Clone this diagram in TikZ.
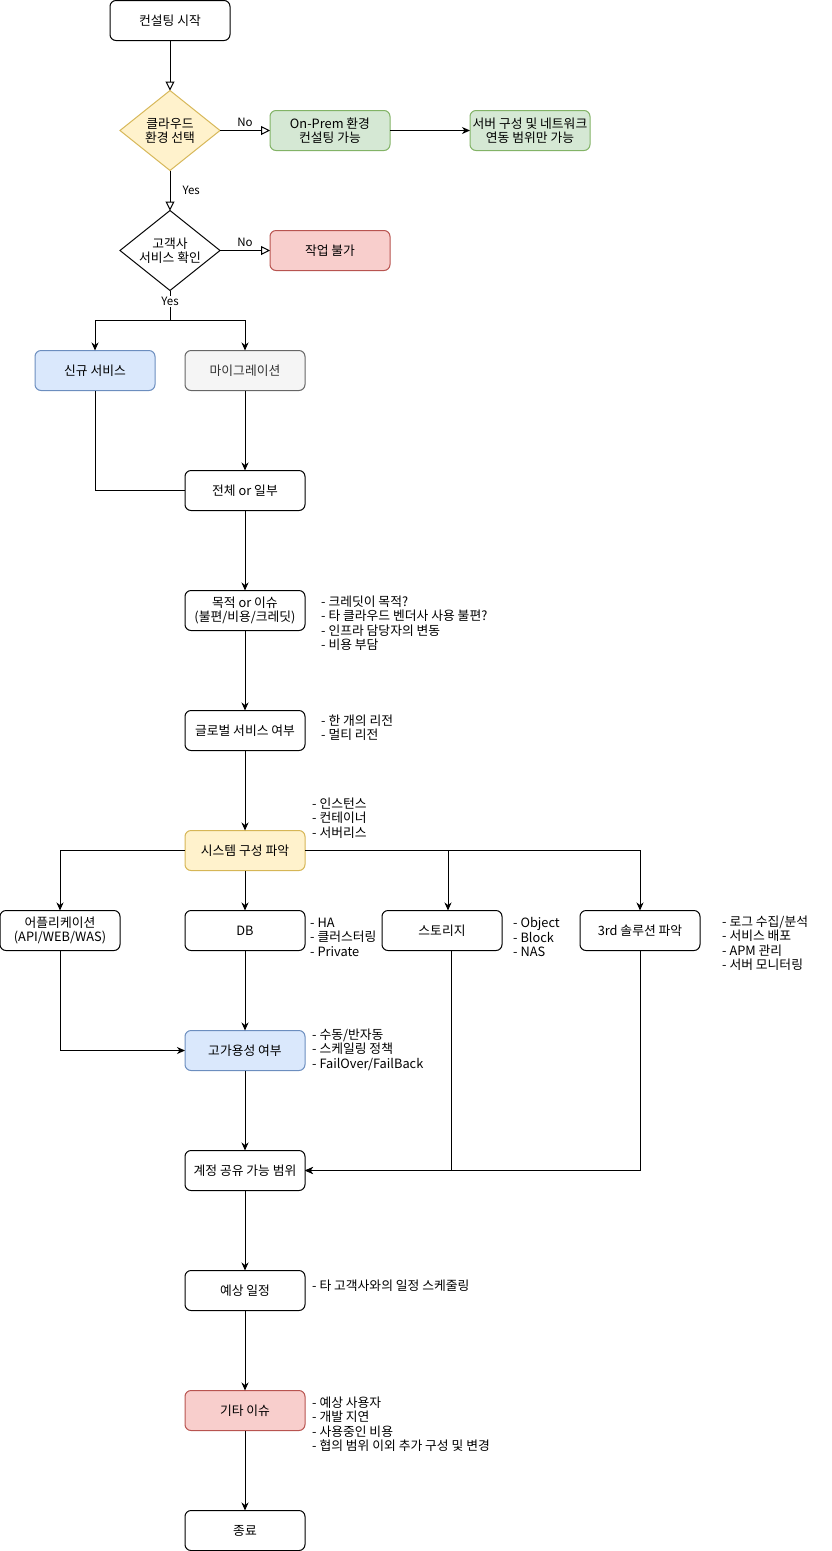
\documentclass[tikz,border=0pt]{standalone}
\usepackage{fontspec}
\setmainfont{Noto Sans CJK KR}
\usepackage{xcolor}
\usepackage{tikz}
\usetikzlibrary{shapes.geometric, arrows.meta, positioning}
\definecolor{ylwfill}{HTML}{FFF2CC}
\definecolor{ylwdraw}{HTML}{D6B656}
\definecolor{grnfill}{HTML}{D5E8D4}
\definecolor{grndraw}{HTML}{82B366}
\definecolor{redfill}{HTML}{F8CECC}
\definecolor{reddraw}{HTML}{B85450}
\definecolor{blufill}{HTML}{DAE8FC}
\definecolor{bludraw}{HTML}{6C8EBF}
\definecolor{gryfill}{HTML}{F5F5F5}
\definecolor{grydraw}{HTML}{666666}
\definecolor{grytext}{HTML}{333333}
\tikzstyle{block} = [
rectangle,
rounded corners=6pt,
minimum width=120pt,
minimum height=40pt,
inner sep=0pt,
outer sep=0pt,
align=center,
draw=black,
fill=white,
line width=1pt
]
\tikzstyle{blockY} = [block, draw=ylwdraw, fill=ylwfill]
\tikzstyle{blockG} = [block, draw=grndraw, fill=grnfill]
\tikzstyle{blockR} = [block, draw=reddraw, fill=redfill]
\tikzstyle{blockB} = [block, draw=bludraw, fill=blufill]
\tikzstyle{blockW} = [block, draw=grydraw, fill=gryfill, text=grytext]
\tikzstyle{decision} = [
diamond,
aspect=1.25,
minimum width=100pt,
minimum height=80pt,
inner sep=0pt,
outer sep=0pt,
align=center,
draw=black,
fill=white,
line width=1pt
]
\tikzstyle{decisionY} = [decision, draw=ylwdraw, fill=ylwfill]
\tikzstyle{note} = [
anchor=north west,
align=left,
inner sep=0pt
]
\tikzstyle{lbl} = [
font=\fontsize{11.5pt}{13pt}\selectfont,
inner sep=1pt
]
\tikzstyle{arrow} = [
line width=1pt,
-{Stealth[length=8pt, width=7pt, inset=2.5pt]},
draw=black
]
\tikzstyle{openarrow} = [
line width=1pt,
-{Triangle[open, length=9pt, width=9pt]},
draw=black
]
\tikzstyle{line} = [
line width=1pt,
draw=black
]

\begin{document}
\begin{tikzpicture}[node distance=80pt, font=\fontsize{12.8pt}{14.5pt}\selectfont]

			\useasboundingbox (0,0) rectangle (831pt,-1551pt);

			\node (n1) [block] at (170pt,-20.5pt) {컨설팅 시작};

			\node (n2) [decisionY, below=50pt of n1] {클라우드\\환경 선택};

			\node (n3) [blockG, right=50pt of n2] {On-Prem 환경\\컨설팅 가능};

			\node (n4) [blockG, right=80pt of n3] {서버 구성 및 네트워크\\연동 범위만 가능};

			\node (n5) [decision, below=40pt of n2] {고객사\\서비스 확인};

			\node (n6) [blockR, right=50pt of n5] {작업 불가};

			\node (n7) [blockB, below=60pt of n5, xshift=-75pt] {신규 서비스};

			\node (n8) [blockW, below=60pt of n5, xshift=75pt] {마이그레이션};

			\node (n9) [block, below=of n8] {전체 or 일부};

			\node (n10) [block, below=of n9] {목적 or 이슈\\(불편/비용/크레딧)};

			\node (n11) [block, below=of n10] {글로벌 서비스 여부};

			\node (n12) [blockY, below=of n11] {시스템 구성 파악};

			\node (n14) [block, below=40pt of n12] {DB};

			\node (n13) [block, left=65pt of n14] {어플리케이션\\(API/WEB/WAS)};

			\node (n15) [block, right=77pt of n14] {스토리지};

			\node (n16) [block, right=78pt of n15] {3rd 솔루션 파악};

			\node (n17) [blockB, below=of n14] {고가용성 여부};

			\node (n18) [block, below=of n17] {계정 공유 가능 범위};

			\node (n19) [block, below=of n18] {예상 일정};

			\node (n20) [blockR, below=of n19] {기타 이슈};

			\node (n21) [block, below=of n20] {종료};

			% side notes
			\node (m1) [note] at ([xshift=16pt, yshift=-5pt]n10.north east) {- 크레딧이 목적?\\- 타 클라우드 벤더사 사용 불편?\\- 인프라 담당자의 변동\\- 비용 부담};

			\node (m2) [note] at ([xshift=16pt, yshift=-4pt]n11.north east) {- 한 개의 리전\\- 멀티 리전};

			\node (m3) [note] at ([xshift=7pt, yshift=33pt]n12.north east) {- 인스턴스\\- 컨테이너\\- 서버리스};

			\node (m4) [note] at ([xshift=5pt, yshift=-7pt]n14.north east) {- HA\\- 클러스터링\\- Private};

			\node (m5) [note] at ([xshift=11pt, yshift=-7pt]n15.north east) {- Object\\- Block\\- NAS};

			\node (m6) [note] at ([xshift=22pt, yshift=-5pt]n16.north east) {- 로그 수집/분석\\- 서비스 배포\\- APM 관리\\- 서버 모니터링};

			\node (m7) [note] at ([xshift=7pt, yshift=2pt]n17.north east) {- 수동/반자동\\- 스케일링 정책\\- FailOver/FailBack};

			\node (m8) [note] at ([xshift=7pt, yshift=-9pt]n19.north east) {- 타 고객사와의 일정 스케줄링};

			\node (m9) [note] at ([xshift=7pt, yshift=-6pt]n20.north east) {- 예상 사용자\\- 개발 지연\\- 사용중인 비용\\- 협의 범위 이외 추가 구성 및 변경};

			\draw [openarrow] (n1) -- (n2);
			\draw [openarrow] (n2) -- node [lbl, above=2pt] {No} (n3);
			\draw [arrow] (n3) -- (n4);
			\draw [openarrow] (n2) -- node [lbl, right=11pt] {Yes} (n5);
			\draw [openarrow] (n5) -- node [lbl, above=2pt] {No} (n6);

			\draw [line] (n5.south) -- node [lbl, fill=white, pos=0.37] {Yes} ++(0,-30pt);
			\draw [arrow] ([yshift=-30pt]n5.south) -| (n7);
			\draw [arrow] ([yshift=-30pt]n5.south) -| (n8);
			\draw [line] (n7) |- (n9);
			\draw [arrow] (n8) -- (n9);
			\draw [arrow] (n9) -- (n10);
			\draw [arrow] (n10) -- (n11);
			\draw [arrow] (n11) -- (n12);

			\draw [arrow] (n12) -| (n13);
			\draw [arrow] (n12) -- (n14);
			\draw [arrow] (n12) -| ([xshift=6pt]n15.north);
			\draw [arrow] (n12) -| (n16);

			\draw [arrow] (n13) |- (n17);
			\draw [arrow] (n14) -- (n17);
			\draw [arrow] (n17) -- (n18);
			\draw [arrow] ([xshift=9pt]n15.south) |- (n18);
			\draw [arrow] (n16) |- (n18);
			\draw [arrow] (n18) -- (n19);
			\draw [arrow] (n19) -- (n20);
			\draw [arrow] (n20) -- (n21);

		\end{tikzpicture}
\end{document}
